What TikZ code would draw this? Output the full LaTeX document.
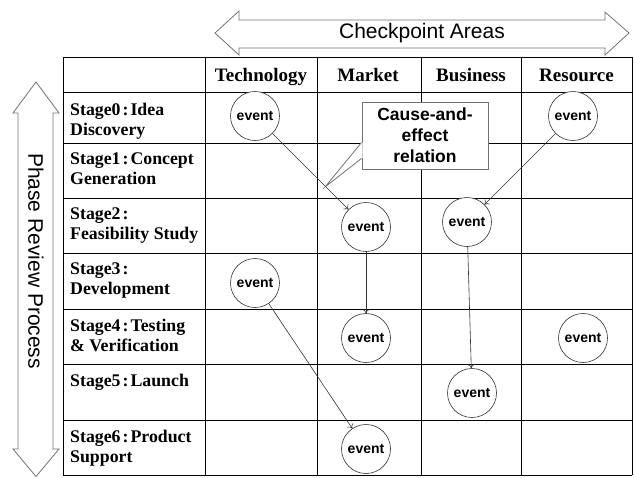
\documentclass[tikz,border=0pt]{standalone}
\usepackage{fontspec}
\setmainfont{Liberation Serif}
\newfontfamily\arialfont{Liberation Sans}
\usetikzlibrary{arrows.meta, positioning}

\newcommand\stagesep{\kern2pt:\kern2pt}

\tikzset{
  gridline/.style={line width=1pt},
  stage/.style={anchor=north west, align=left, inner sep=0pt,
    font=\fontsize{17.8}{20}\selectfont\bfseries},
  area/.style={anchor=base, font=\fontsize{19}{22}\selectfont\bfseries},
  event/.style={circle, draw=black!80, line width=0.6pt, minimum size=49pt,
    inner sep=0pt, fill=white, font=\arialfont\fontsize{14}{16}\selectfont\bfseries},
  link/.style={-{To[length=4pt,width=7pt]}, draw=black!80, line width=0.6pt},
  bigarrow/.style={draw=black!55, line width=0.8pt},
  bigtext/.style={font=\arialfont\fontsize{21}{24}\selectfont},
  causebox/.style={draw=black!55, line width=0.8pt, fill=white, align=center,
    minimum width=126pt, minimum height=67pt, inner sep=0pt,
    font=\arialfont\fontsize{17.5}{21}\selectfont\bfseries},
}

\begin{document}
\begin{tikzpicture}[x=1pt,y=-1pt]
  \useasboundingbox (0,0) rectangle (634,477);

  % the grid
  \foreach \y in {57,92,143,198,253,309,364,420,475}
    \draw[gridline] (63,\y) -- (632,\y);
  \foreach \x in {63,205,317,421,521,632}
    \draw[gridline] (\x,57) -- (\x,475);

  % checkpoint areas
  \draw[bigarrow] (215,33) -- (239,11) -- (239,20) -- (605,20) -- (605,12)
    -- (629,33) -- (605,55) -- (605,48) -- (239,48) -- (239,55) -- cycle;
  \node[bigtext] (areas) at (422,33) {Checkpoint Areas};

  % phase review process
  \draw[bigarrow] (36,82) -- (59,113) -- (53,113) -- (53,449) -- (59,449)
    -- (36,476.5) -- (13,449) -- (18,449) -- (18,113) -- (13,113) -- cycle;
  \node[bigtext, rotate=-90] (phase) at (36,261) {Phase Review Process};

  % column heads
  \node[area] (tech) at (261,81.5)   {Technology};
  \node[area] (mkt)  at (368,81.5)   {Market};
  \node[area] (bus)  at (471,81.5)   {Business};
  \node[area] (res)  at (576.5,81.5) {Resource};

  % stages
  \node[stage] (s0) at (70,102.5) {Stage0\stagesep Idea\\Discovery};
  \node[stage] (s1) at (70,153)   {Stage1\stagesep Concept\\Generation};
  \node[stage] (s2) at (70,208)   {Stage2\stagesep\\Feasibility Study};
  \node[stage] (s3) at (70,263)   {Stage3\stagesep\\Development};
  \node[stage] (s4) at (70,319)   {Stage4\stagesep Testing\\\& Verification};
  \node[stage] (s5) at (70,374)   {Stage5\stagesep Launch};
  \node[stage] (s6) at (70,430)   {Stage6\stagesep Product\\Support};

  % events
  \node[event] (tech0) at (255,116) {event};
  \node[event] (res0)  at (573,116) {event};
  \node[event] (mkt2)  at (366,227) {event};
  \node[event] (bus2)  at (467,222) {event};
  \node[event] (tech3) at (255,283) {event};
  \node[event] (mkt4)  at (366,338) {event};
  \node[event] (res4)  at (583,338) {event};
  \node[event] (bus5)  at (472,393) {event};
  \node[event] (mkt6)  at (366,449) {event};

  \draw[link] (tech0) -- (mkt2);
  \draw[link] (res0)  -- (bus2);
  \draw[link] (mkt2)  -- (mkt4);
  \draw[link] (bus2)  -- (bus5);
  \draw[link] (tech3) -- (mkt6);

  % cause-and-effect callout
  \node[causebox] (cause) at (425,135.5) {Cause-and-\\effect\\relation};
  \coordinate (tip) at (325,187);
  \fill[white] ([yshift=27pt]cause.south west) -- (tip)
    -- ([yshift=11pt]cause.south west) -- ([xshift=1pt,yshift=11pt]cause.south west)
    -- ([xshift=1pt,yshift=27pt]cause.south west) -- cycle;
  \draw[bigarrow] ([yshift=27pt]cause.south west) -- (tip)
    -- ([yshift=11pt]cause.south west);
\end{tikzpicture}
\end{document}
